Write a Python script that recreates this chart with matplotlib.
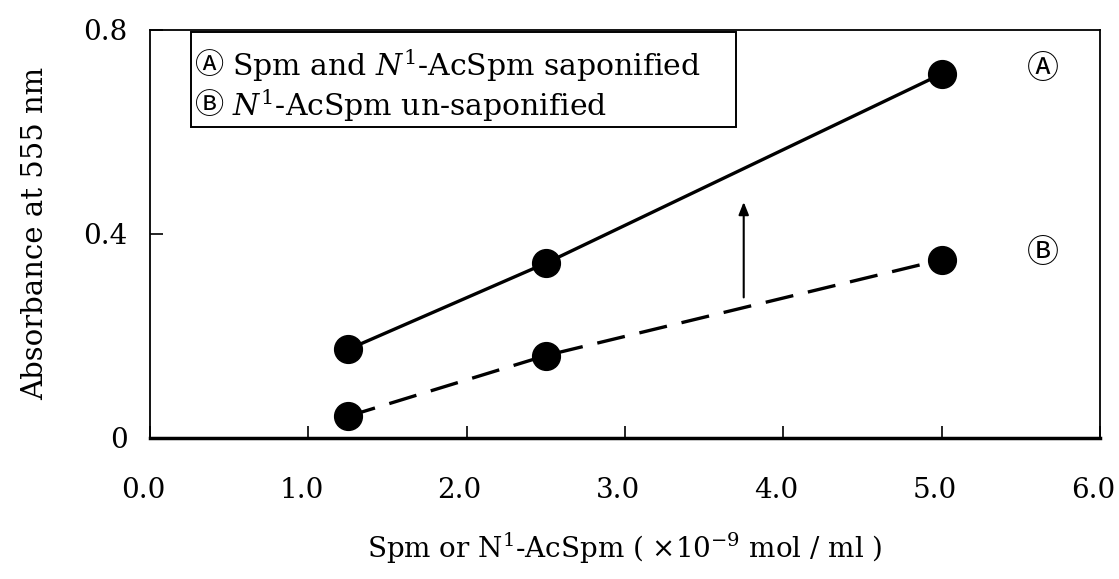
import matplotlib
matplotlib.use("Agg")
import matplotlib.pyplot as plt
import matplotlib.transforms as mtransforms
from matplotlib.patches import Rectangle

# data
conc = [1.25, 2.5, 5.0]
abs_saponified = [0.173, 0.342, 0.713]
abs_unsaponified = [0.042, 0.161, 0.349]
arrow_x = 3.75
arrow_from = 0.275
arrow_to = 0.462
legend_marks = ['Ⓐ', 'Ⓑ']
legend_texts = ['Spm and $\\mathit{N}^{\\mathit{1}}$-AcSpm saponified',
                '$\\mathit{N}^{\\mathit{1}}$-AcSpm un-saponified']

plt.rcParams['font.family'] = ['DejaVu Serif', 'Noto Sans CJK JP', 'DejaVu Sans']
plt.rcParams['mathtext.fontset'] = 'dejavuserif'
circ_font = ['Noto Sans CJK JP', 'DejaVu Sans']

fig = plt.figure(figsize=(11.19, 5.79), dpi=100)
ax = fig.add_axes([0.134, 0.244, 0.849, 0.705])

ax.plot(conc, abs_saponified, '-', color='black', linewidth=2.4,
        marker='o', markersize=20, clip_on=False, zorder=3)
ax.plot(conc, abs_unsaponified, '--', color='black', linewidth=2.4,
        dashes=(8.5, 4.5), marker='o', markersize=20, clip_on=False, zorder=3)

ax.annotate('', xy=(arrow_x, arrow_to), xytext=(arrow_x, arrow_from),
            arrowprops=dict(arrowstyle='-|>,head_width=0.3,head_length=0.75',
                            color='black', linewidth=1.5, shrinkA=0, shrinkB=0))

ax.text(5.64, 0.722, legend_marks[0], fontsize=23, ha='center', va='center', family=circ_font)
ax.text(5.64, 0.363, legend_marks[1], fontsize=23, ha='center', va='center', family=circ_font)

# legend box
ax.add_patch(Rectangle((0.043, 0.762), 0.574, 0.233, transform=ax.transAxes,
                       facecolor='white', edgecolor='black', linewidth=1.4, zorder=4))
for i, (m, t) in enumerate(zip(legend_marks, legend_texts)):
    yy = 0.911 - i * 0.098
    ax.text(0.063, yy, m, transform=ax.transAxes, fontsize=21, ha='center',
            va='center', family=circ_font, zorder=5)
    ax.text(0.086, yy, t, transform=ax.transAxes, fontsize=21.5, ha='left',
            va='center', zorder=5)

ax.set_xlim(0, 6)
ax.set_ylim(0, 0.8)
ax.set_xticks([0, 1, 2, 3, 4, 5, 6])
ax.set_xticklabels(['0.0', '1.0', '2.0', '3.0', '4.0', '5.0', '6.0'])
ax.set_yticks([0, 0.4, 0.8])
ax.set_yticklabels(['0', '0.4', '0.8'])
ax.tick_params(axis='both', direction='in', length=9, width=1.2, labelsize=20)
ax.tick_params(axis='x', pad=28)
ax.tick_params(axis='y', pad=16)

# nudge x tick labels a little left so "6.0" stays inside the figure
shift = mtransforms.ScaledTranslation(-5 / 72, 0, fig.dpi_scale_trans)
for lbl in ax.get_xticklabels():
    lbl.set_transform(lbl.get_transform() + shift)

for s in ['top', 'right', 'left']:
    ax.spines[s].set_linewidth(1.3)
ax.spines['bottom'].set_linewidth(2.5)

ax.set_ylabel('Absorbance at 555 nm', fontsize=21)
ax.yaxis.set_label_coords(-0.121, 0.5)
ax.yaxis.label.set_va('center')
ax.set_xlabel('Spm or N$^{1}$-AcSpm ( ×10$^{-9}$ mol / ml )', fontsize=20)
ax.xaxis.set_label_coords(0.5, -0.27)
ax.xaxis.label.set_va('center')

fig.savefig('out.png', dpi=100, facecolor='w')
plt.close(fig)
